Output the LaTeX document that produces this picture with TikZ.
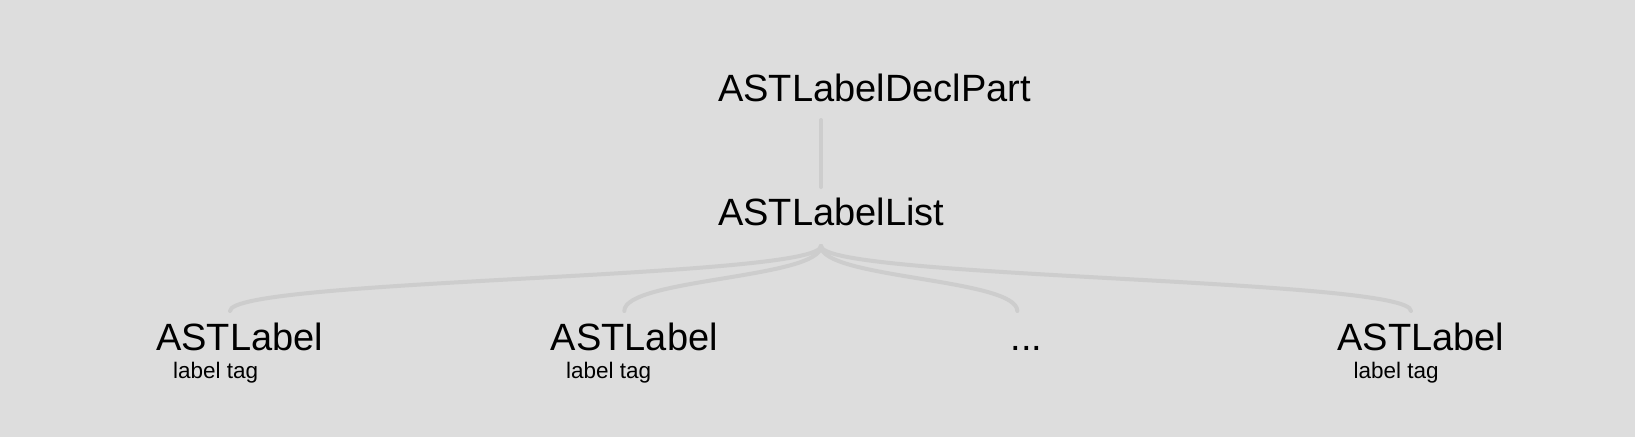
\documentclass[tikz,border=0pt]{standalone}
\usepackage{fontspec}
\setmainfont{Liberation Sans}
\definecolor{bgc}{RGB}{221,221,221}
\definecolor{linkc}{RGB}{205,205,205}
\tikzset{
  big/.style={anchor=base west, inner sep=0pt, font=\fontsize{38}{40}\selectfont, text=black},
  small/.style={anchor=base west, inner sep=0pt, font=\fontsize{22.5}{24}\selectfont, text=black},
  link/.style={draw=linkc, line width=4pt, line cap=round}
}
\begin{document}
\begin{tikzpicture}[x=1pt, y=-1pt]
\fill[bgc] (0,0) rectangle (1635,437);
\useasboundingbox (0,0) rectangle (1635,437);
% texts
\node[big] (decl) at (718,101.7) {ASTLabelDeclPart};
\node[big] (list) at (718,225) {ASTLabelList};
\node[big] (c1) at (156,350.5) {ASTLabel};
\node[small] (t1) at (173,378.5) {label tag};
\node[big] (c2) at (550.7,350.5) {ASTLabel};
\node[small] (t2) at (566,378.5) {label tag};
\node[big] (c3) at (1010.5,350.5) {...};
\node[big] (c4) at (1337.3,350.5) {ASTLabel};
\node[small] (t4) at (1353.5,378.5) {label tag};
% connector points
\coordinate (declB) at (821,120);
\coordinate (listT) at (821,187);
\coordinate (listB) at (821,246);
\coordinate (mid) at (0,278.5);
\coordinate (c1T) at (230,311);
\coordinate (c2T) at (624.3,311);
\coordinate (c3T) at (1017.3,311);
\coordinate (c4T) at (1411,311);
% connectors
\draw[link] (declB) -- (listT);
\foreach \c in {c1T,c2T,c3T,c4T}{
  \draw[link] (listB) .. controls (listB |- mid) and (\c |- mid) .. (\c);
}
\end{tikzpicture}
\end{document}
